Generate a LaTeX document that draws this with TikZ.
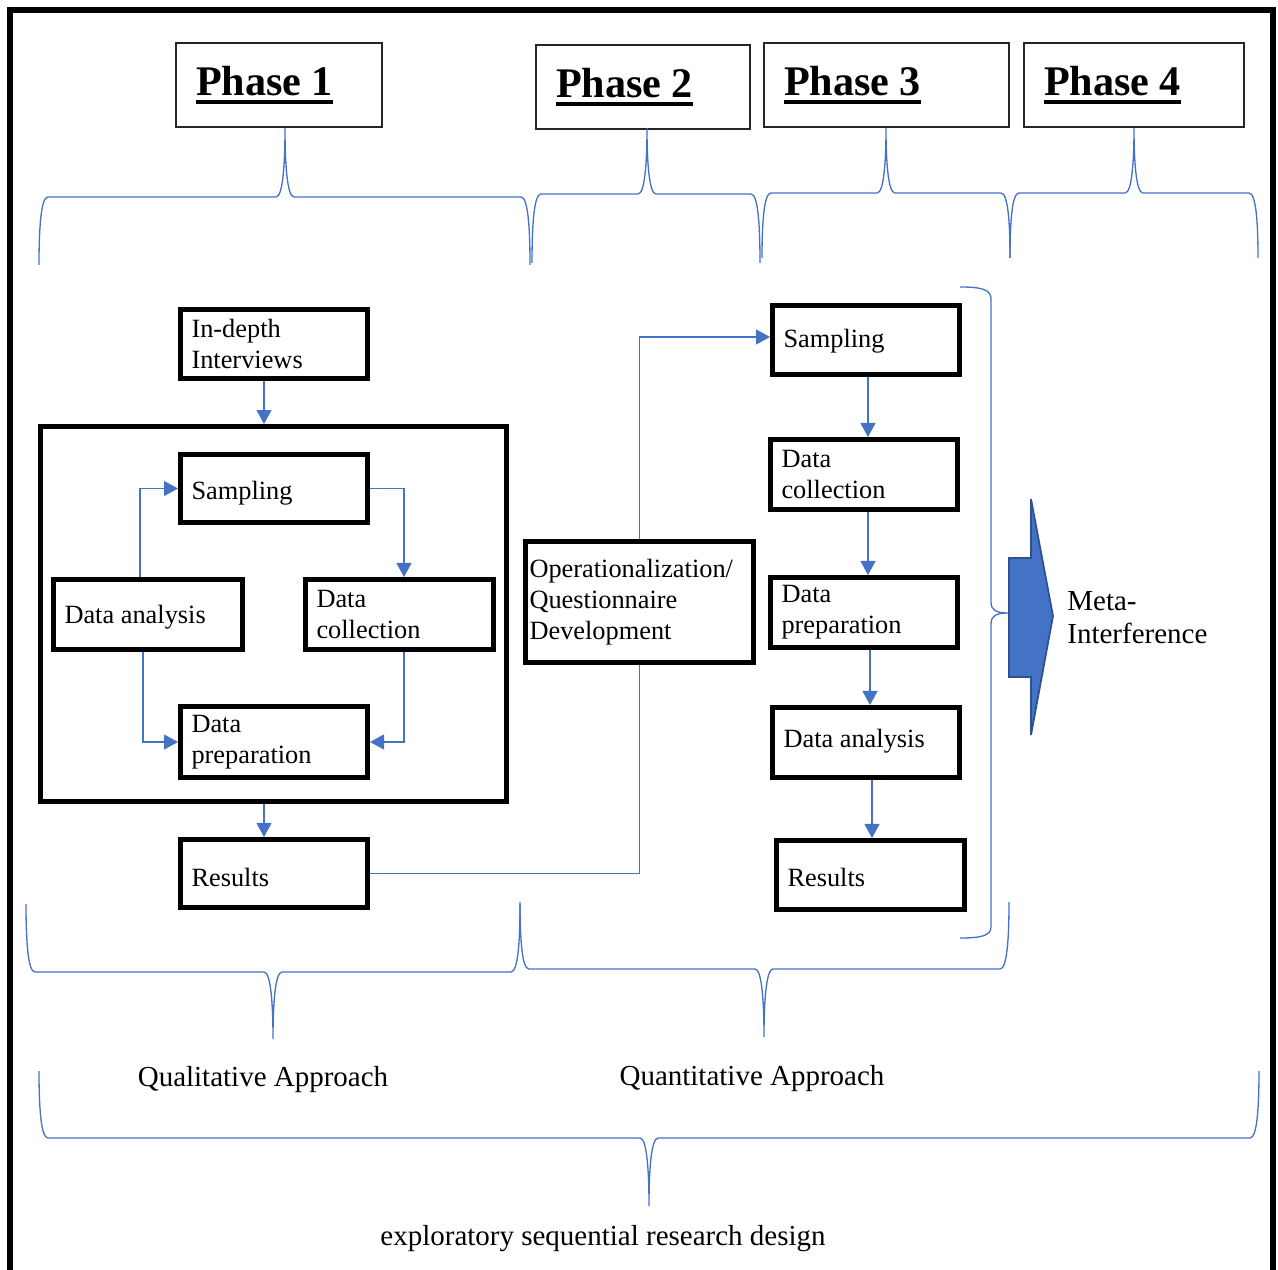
\documentclass[tikz,border=0pt]{standalone}
\usepackage{fontspec}
\setmainfont{Liberation Serif}
\usetikzlibrary{arrows.meta}
\definecolor{linkblue}{HTML}{4472C4}
\definecolor{arrowedge}{HTML}{2F528F}
% bold heading with a heavy underline
\newcommand{\phaseul}[1]{\setbox0\hbox{#1}\rlap{\rule[-4.9pt]{\wd0}{2.3pt}}\box0}
% curly brace: x-left, x-right, x-tip, y-ends, y-bar, y-tip
\newcommand{\drawcurly}[6]{%
  \draw[brace] (#1,#4) .. controls (#1,{#5+0.45*(#4-#5)}) and ({#1+2},#5) .. ({#1+9},#5)
    -- ({#3-9},#5) .. controls ({#3-2},#5) and (#3,{#5+0.5*(#6-#5)}) .. (#3,#6)
    .. controls (#3,{#5+0.5*(#6-#5)}) and ({#3+2},#5) .. ({#3+9},#5)
    -- ({#2-9},#5) .. controls ({#2-2},#5) and (#2,{#5+0.45*(#4-#5)}) .. (#2,#4);}
\tikzset{
  frame/.style={line width=3.4pt},
  phasebox/.style={draw=black!85, line width=1.2pt, minimum height=1.68cm, inner xsep=0.4cm,
    align=flush left, font=\fontsize{24}{28}\selectfont\bfseries},
  stepbox/.style={draw, line width=2.8pt, inner xsep=0.22cm, inner ysep=0pt, align=flush left,
    font=\fontsize{15}{17.6}\selectfont},
  oneline/.style={text height=#1, text depth=0pt},
  link/.style={draw=linkblue, line width=0.8pt},
  linkarrow/.style={link, -{Triangle[length=8pt,width=8.5pt]}},
  brace/.style={draw=linkblue, line width=0.75pt},
  caption/.style={font=\fontsize{16.5}{19}\selectfont},
}
\begin{document}
\begin{tikzpicture}[x=0.02cm, y=-0.02cm]
\useasboundingbox (0,0) rectangle (1278,1270);
% outer frame, open at the bottom
\draw[frame] (10,1270) -- (10,10) -- (1273,10) -- (1273,1270);

% phase headers
\node[phasebox, text width=3.32cm] (ph1) at (279,85) {\phaseul{Phase 1}};
\node[phasebox, text width=3.48cm] (ph2) at (643,87) {\phaseul{Phase 2}};
\node[phasebox, text width=4.10cm] (ph3) at (886.5,85) {\phaseul{Phase 3}};
\node[phasebox, text width=3.60cm] (ph4) at (1134,85) {\phaseul{Phase 4}};

% braces under the phase headers
\drawcurly{39}{530}{285}{265}{197}{128}
\drawcurly{532}{760}{647}{263}{194}{128}
\drawcurly{762}{1010}{886}{258}{193}{128}
\drawcurly{1010}{1258}{1134}{258}{193}{128}

% qualitative strand
\node[stepbox, text width=3.30cm, minimum height=1.38cm] (int) at (274,344) {In-depth\\Interviews};
\node[draw, line width=2.8pt, minimum width=9.32cm, minimum height=7.50cm] (cont) at (273.5,614) {};
\node[stepbox, oneline=12.8pt, text width=3.30cm, minimum height=1.36cm] (s1) at (274,488.5) {Sampling};
\node[stepbox, oneline=10.5pt, text width=3.34cm, minimum height=1.40cm] (da1) at (148,614.5) {Data analysis};
\node[stepbox, text width=3.32cm, minimum height=1.40cm] (dc1) at (399.5,614.5) {Data\\collection};
\node[stepbox, text width=3.30cm, minimum height=1.42cm] (dp1) at (274,742) {Data\\preparation};
\node[stepbox, oneline=15pt, text width=3.30cm, minimum height=1.36cm] (r1) at (274,873.5) {Results};

% bridge between the strands
\node[stepbox, inner xsep=0.08cm, text width=4.40cm, minimum height=2.42cm] (op) at (639.5,602)
  {Operationalization/\\Questionnaire\\Development};

% quantitative strand
\node[stepbox, oneline=8.2pt, text width=3.30cm, minimum height=1.38cm] (s2) at (866,340) {Sampling};
\node[stepbox, text width=3.30cm, minimum height=1.40cm] (dc2) at (864,474.5) {Data\\collection};
\node[stepbox, text width=3.30cm, minimum height=1.40cm] (dp2) at (864,612.5) {Data\\preparation};
\node[stepbox, oneline=6pt, text width=3.30cm, minimum height=1.40cm] (da2) at (866,742.5) {Data analysis};
\node[stepbox, oneline=13pt, text width=3.32cm, minimum height=1.38cm] (r2) at (870.5,875) {Results};

% connectors, qualitative strand
\draw[linkarrow] (int.south -| 264,0) -- (cont.north -| 264,0);
\draw[linkarrow] (da1.north -| 140,0) |- (s1.west);
\draw[linkarrow] (s1.east) -| (dc1.north -| 404,0);
\draw[linkarrow] (dc1.south -| 404,0) |- (dp1.east);
\draw[linkarrow] (da1.south -| 143,0) |- (dp1.west);
\draw[linkarrow] (cont.south -| 264,0) -- (r1.north -| 264,0);

% connectors through the bridge
\draw[link] (r1.east) -| (op.south);
\draw[linkarrow] (op.north) |- ([yshift=0.06cm]s2.west);

% connectors, quantitative strand
\draw[linkarrow] (s2.south -| 868,0) -- (dc2.north -| 868,0);
\draw[linkarrow] (dc2.south -| 868,0) -- (dp2.north -| 868,0);
\draw[linkarrow] (dp2.south -| 870,0) -- (da2.north -| 870,0);
\draw[linkarrow] (da2.south -| 872,0) -- (r2.north -| 872,0);

% brace grouping the quantitative steps
\draw[brace] (960,287) .. controls (980,287) and (991,289) .. (991,299) -- (991,602)
  .. controls (991,610) and (996,613) .. (1008,613)
  .. controls (996,613) and (991,616) .. (991,624) -- (991,927)
  .. controls (991,936) and (980,938) .. (960,938);

% block arrow and its label
\filldraw[fill=linkblue, draw=arrowedge, line width=1pt]
  (1009,558) -- (1031,558) -- (1031,499) -- (1053,616) -- (1031,735) -- (1031,677) -- (1009,677) -- cycle;
\node[anchor=west, inner sep=0pt, align=left, font=\fontsize{16.5}{18.7}\selectfont] (meta) at (1067,618)
  {Meta-\\Interference};

% approach braces
\drawcurly{26}{520}{273}{904}{972}{1039}
\drawcurly{520}{1009}{764}{902}{969}{1037}
\drawcurly{39}{1259}{649}{1071}{1138}{1206}

\node[caption] (qual) at (263,1080) {Qualitative Approach};
\node[caption] (quant) at (752,1079) {Quantitative Approach};
\node[caption] (design) at (603,1239) {exploratory sequential research design};
\end{tikzpicture}
\end{document}
